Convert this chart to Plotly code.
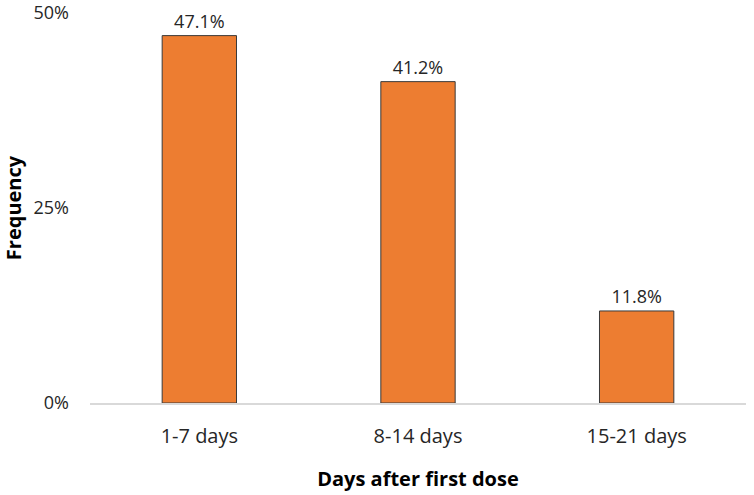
import plotly.graph_objects as go

categories = ["1-7 days", "8-14 days", "15-21 days"]
frequency = [47.1, 41.2, 11.8]
y_ticks = [0, 25, 50]
y_tick_labels = ["0%", "25%", "50%"]

font_family = "Open Sans, Liberation Sans, sans-serif"

fig = go.Figure(go.Bar(
    x=categories,
    y=frequency,
    text=[f"{v:.1f}%" for v in frequency],
    textposition="outside",
    textfont=dict(size=18, color="#262626", family=font_family),
    cliponaxis=False,
    marker=dict(color="#ED7D31", line=dict(color="#3a3a3a", width=1)),
))

fig.update_layout(
    width=754, height=495,
    margin=dict(l=90, r=8, t=13, b=92, autoexpand=False),
    paper_bgcolor="white", plot_bgcolor="white",
    bargap=0.66,
    showlegend=False,
    font=dict(family=font_family, color="#262626"),
)
fig.update_xaxes(
    automargin=False,
    showline=True, linecolor="#d9d9d9", linewidth=2,
    ticks="", tickfont=dict(size=20, color="#262626"),
    ticklabelstandoff=14,
    title=dict(text="<b>Days after first dose</b>", font=dict(size=20, color="#000000"), standoff=24),
)
fig.update_yaxes(
    automargin=False,
    range=[0, 50.0001], tickvals=y_ticks, ticktext=y_tick_labels,
    showgrid=False, zeroline=False, showline=False,
    tickfont=dict(size=18, color="#262626"),
    ticklabelstandoff=20,
    ticklabeloverflow="allow",
    title=dict(text="<b>Frequency</b>", font=dict(size=20, color="#000000"), standoff=8),
)

fig.write_html(
    "out.html",
    config={"displayModeBar": False},
    post_script="document.body.style.margin='0';document.body.style.padding='0';",
)
